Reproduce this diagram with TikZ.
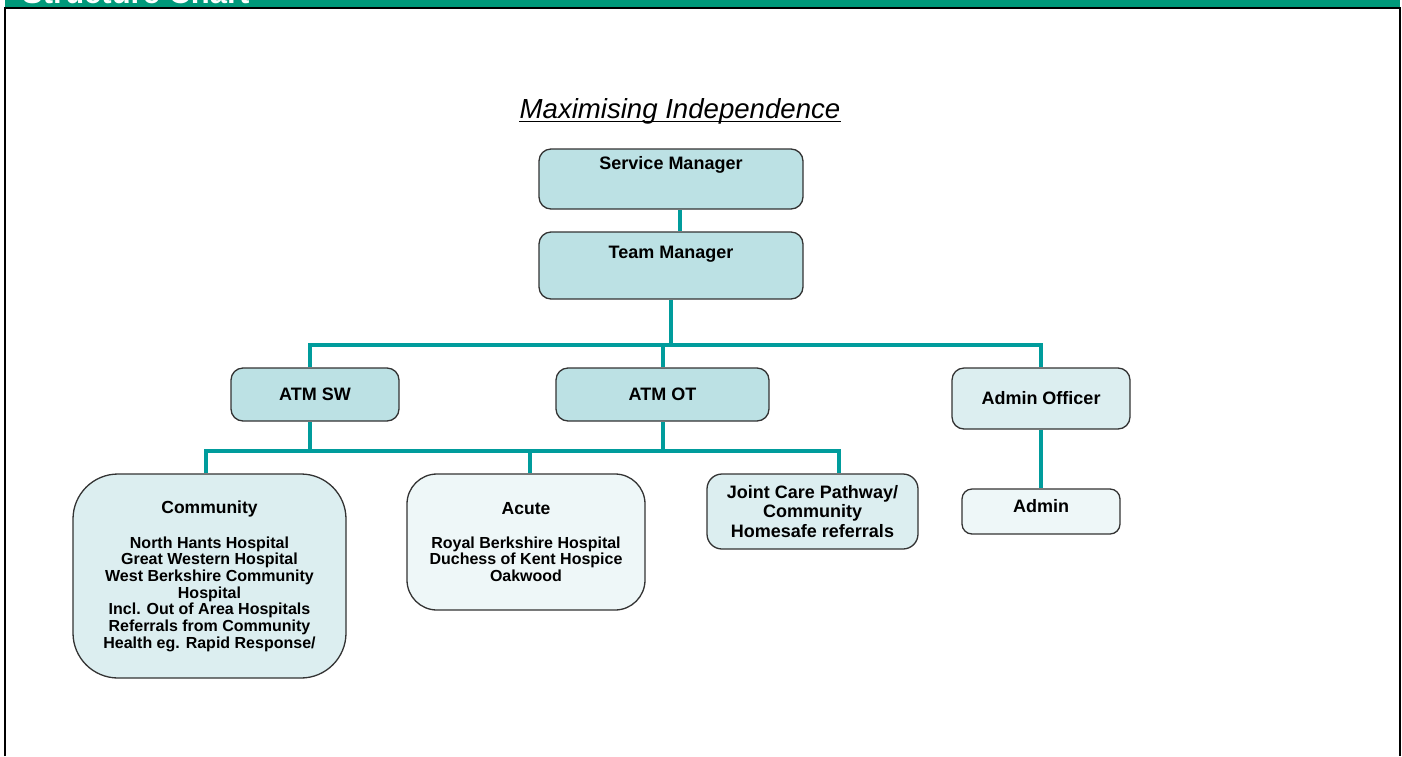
\documentclass[tikz,border=0pt]{standalone}
\usepackage{fontspec}
\setmainfont{Liberation Sans}
\usepackage{xcolor}
\usepackage{tikz}

\definecolor{barGreen}{HTML}{00997A}
\definecolor{linkTeal}{HTML}{009C9C}
\definecolor{fillDark}{HTML}{BCE1E4}
\definecolor{fillMid}{HTML}{DCEEF0}
\definecolor{fillLight}{HTML}{EEF7F8}
\definecolor{edgeGrey}{HTML}{333333}

\tikzset{
  box/.style={draw=edgeGrey, line width=1.3, rounded corners=12, align=center, inner sep=2,
    font=\bfseries\fontsize{18}{19.5}\selectfont},
  listbox/.style={box, font=\bfseries\fontsize{16}{16.7}\selectfont},
  link/.style={draw=linkTeal, line width=4},
}
\newcommand{\boxhead}[1]{{\fontsize{17.5}{16.7}\selectfont #1}}

\begin{document}
\begin{tikzpicture}[x=1pt, y=-1pt]
            \useasboundingbox (0,0) rectangle (1402,756);
            \fill [barGreen] (5,0) rectangle (1400,7.5);
            \begin{scope}
              \clip (5,0) rectangle (1400,7.5);
              \node [anchor=base west, inner sep=0, text=white, font=\bfseries\fontsize{31}{34}\selectfont] (hdr) at (22,3.5) {Structure Chart};
            \end{scope}
            \draw [line width=2.2] (5,756) -- (5,8) -- (1400,8) -- (1400,756);

            \node [anchor=base, inner sep=0, font=\itshape\fontsize{27.6}{30}\selectfont] (title) at (680,118) {Maximising Independence};
            \draw [line width=1.3] ([yshift=-3.5]title.base west) -- ([yshift=-3.5]title.base east);

            \node [box, fill=fillDark, minimum width=264, minimum height=60, text height=13, text depth=33] (sm) at (671,179) {Service Manager};
            \node [box, fill=fillDark, minimum width=264, minimum height=67, text height=13, text depth=28] (tm) at (671,265.5) {Team Manager};
            \node [box, fill=fillDark, minimum width=168, minimum height=53] (atmsw) at (315,394.5) {ATM SW};
            \node [box, fill=fillDark, minimum width=213, minimum height=53] (atmot) at (662.5,394.5) {ATM OT};
            \node [box, fill=fillMid, minimum width=178, minimum height=61] (admoff) at (1041,398.5) {Admin Officer};

            \node [listbox, fill=fillMid, rounded corners=45, minimum width=273, minimum height=204] (comm) at (209.5,576) {\boxhead{Community}\\[18.3pt] North Hants Hospital\\ Great Western Hospital\\ West Berkshire Community\\ Hospital\\ Incl. Out of Area Hospitals\\ Referrals from Community\\ Health eg. Rapid Response/};
            \node [listbox, fill=fillLight, rounded corners=30, minimum width=238, minimum height=136] (acute) at (526,542) {\boxhead{Acute}\\[17.3pt] Royal Berkshire Hospital\\ Duchess of Kent Hospice\\ Oakwood};
            \node [box, fill=fillMid, rounded corners=15, minimum width=211, minimum height=75] (joint) at (812.5,511.5) {Joint Care Pathway/\\ Community\\ Homesafe referrals};
            \node [box, fill=fillLight, rounded corners=10, minimum width=158, minimum height=45, text height=13, text depth=12] (admin) at (1041,511.5) {Admin};

            \coordinate (bus1) at (0,345);
            \coordinate (bus2) at (0,451);
            \draw [link] ([xshift=9]sm.south) -- ([xshift=9]tm.north);
            \draw [link] (tm.south) -- (tm.south |- bus1);
            \draw [link] ([xshift=-5]atmsw.north) |- (admoff.north |- bus1) -- (admoff.north);
            \draw [link] (atmot.north) -- (atmot.north |- bus1);
            \draw [link] ([xshift=-5]atmsw.south) -- ([xshift=-5]atmsw.south |- bus2);
            \draw [link] (atmot.south) -- (atmot.south |- bus2);
            \draw [link] ([xshift=-4]comm.north) |- ([xshift=26]joint.north |- bus2) -- ([xshift=26]joint.north);
            \draw [link] ([xshift=4]acute.north) -- ([xshift=4]acute.north |- bus2);
            \draw [link] (admoff.south) -- (admin.north);
        \end{tikzpicture}
\end{document}
